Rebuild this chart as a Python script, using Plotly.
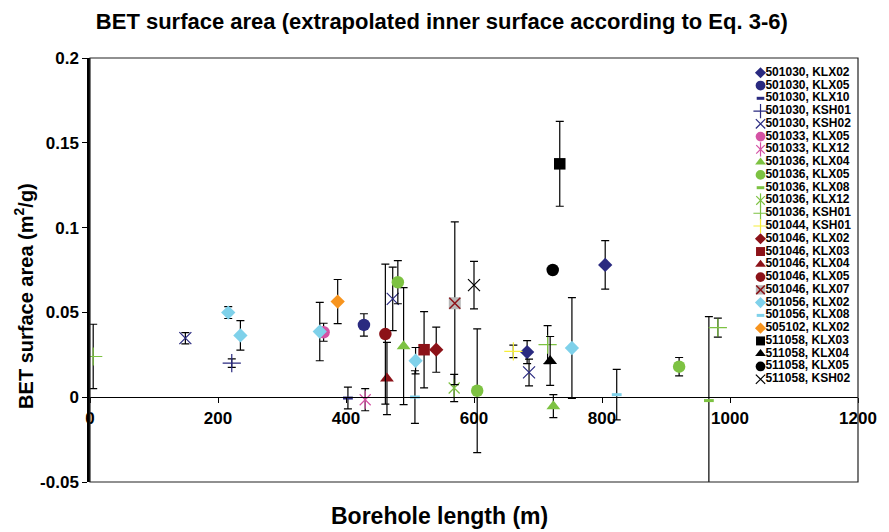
import plotly.graph_objects as go

# Sample series (sampling campaign, borehole)
series_names = [
    "501030, KLX02", "501030, KLX05", "501030, KLX10", "501030, KSH01", "501030, KSH02",
    "501033, KLX05", "501033, KLX12",
    "501036, KLX04", "501036, KLX05", "501036, KLX08", "501036, KLX12", "501036, KSH01",
    "501044, KSH01",
    "501046, KLX02", "501046, KLX03", "501046, KLX04", "501046, KLX05", "501046, KLX07",
    "501056, KLX02", "501056, KLX08",
    "505102, KLX02",
    "511058, KLX03", "511058, KLX04", "511058, KLX05", "511058, KSH02",
]

# Borehole length (m) of each measurement, per series
borehole_length = [
    [683, 805], [428], [403], [221.5], [149, 473, 686],
    [365], [430],
    [490, 724], [481, 605, 920.5], [967], [569], [5, 715, 981],
    [661.5],
    [541], [522], [464], [461.5], [570],
    [216, 235, 359, 508.7, 753], [507.7, 823],
    [387],
    [734], [719], [723], [600],
]

# BET surface area (m2/g), per series
bet_area = [
    [0.0266, 0.078], [0.0426], [-0.0005], [0.0201], [0.0348, 0.058, 0.0146],
    [0.0383], [-0.0015],
    [0.0301, -0.0053], [0.0678, 0.0038, 0.018], [-0.002], [0.0054], [0.024, 0.031, 0.041],
    [0.027],
    [0.028], [0.028], [0.011], [0.0372], [0.0554],
    [0.0499, 0.0364, 0.0387, 0.0215, 0.029], [0.0001, 0.0015],
    [0.0564],
    [0.1376], [0.0214], [0.075], [0.0661],
]

# Uncertainty of the BET surface area (m2/g), per series
bet_error = [
    [0.0068, 0.0143], [0.0066], [0.0064], [0.0025], [0.0033, 0.0187, 0.0079],
    [0.0053], [0.0065],
    [0.0345, 0.0068], [0.0127, 0.0365, 0.0054], [0.0495], [0.008], [0.019, 0.0112, 0.0056],
    [0.0037],
    [0.0133], [0.0225], [0.0213], [0.0413], [0.048],
    [0.0035, 0.0087, 0.0172, 0.0078, 0.0297], [0.0155, 0.0149],
    [0.013],
    [0.025], [0.0144], [0.0], [0.014],
]

x_ticks = [0, 200, 400, 600, 800, 1000, 1200]
y_ticks = [-0.05, 0, 0.05, 0.1, 0.15, 0.2]
y_tick_labels = ["-0.05", "0", "0.05", "0.1", "0.15", "0.2"]

# ---- styling -------------------------------------------------------------
NAVY = "#2A2A80"
PINK = "#D452A4"
GREEN = "#7DC242"
YELLOW = "#F6EE3A"
DRED = "#8C1218"
CYAN = "#7FD1EA"
ORANGE = "#F7941E"
BLACK = "#000000"
GRAY = "#B8B8B8"

series_style = [
    ("diamond", NAVY), ("circle", NAVY), ("dash", NAVY), ("plus", NAVY), ("x", NAVY),
    ("circle", PINK), ("asterisk", PINK),
    ("triangle", GREEN), ("circle", GREEN), ("dash", GREEN), ("asterisk", GREEN), ("plus", GREEN),
    ("plus", YELLOW),
    ("diamond", DRED), ("square", DRED), ("triangle", DRED), ("circle", DRED), ("xsquare", DRED),
    ("diamond", CYAN), ("dash", CYAN),
    ("diamond", ORANGE),
    ("square", BLACK), ("triangle", BLACK), ("circle", BLACK), ("x", BLACK),
]


def marker_layers(kind, color, scale=1.0):
    """Return a list of marker dicts; several are stacked for compound symbols."""
    s = scale
    if kind == "diamond":
        return [dict(symbol="diamond", size=11 * s, color=color, line=dict(width=0))]
    if kind == "circle":
        return [dict(symbol="circle", size=12.5 * s, color=color, line=dict(width=0))]
    if kind == "square":
        return [dict(symbol="square", size=11.5 * s, color=color, line=dict(width=0))]
    if kind == "triangle":
        return [dict(symbol="triangle-up", size=12 * s, color=color, line=dict(width=0))]
    if kind == "dash":
        return [dict(symbol="line-ew-open", size=7 * s, color=color, line=dict(width=3, color=color))]
    if kind == "plus":
        return [dict(symbol="cross-thin-open", size=13 * s, color=color, line=dict(width=1.2, color=color))]
    if kind == "x":
        return [dict(symbol="x-thin-open", size=12 * s, color=color, line=dict(width=1.2, color=color))]
    if kind == "asterisk":
        return [
            dict(symbol="x-thin-open", size=11 * s, color=color, line=dict(width=1.2, color=color)),
            dict(symbol="line-ns-open", size=13 * s, color=color, line=dict(width=1.2, color=color)),
        ]
    if kind == "xsquare":
        return [
            dict(symbol="square", size=12 * s, color=GRAY, line=dict(width=0)),
            dict(symbol="x-thin-open", size=11 * s, color=color, line=dict(width=1.5, color=color)),
        ]
    raise ValueError(kind)


FONT = "Liberation Sans, Arial, sans-serif"

fig = go.Figure()

# ---- data series with error bars ------------------------------------------
for name, xs, ys, errs, (kind, color) in zip(series_names, borehole_length, bet_area,
                                              bet_error, series_style):
    for k, mk in enumerate(marker_layers(kind, color)):
        err = None
        if k == 0 and any(e > 0 for e in errs):
            err = dict(type="data", array=errs, symmetric=True, visible=True,
                       color="black", thickness=1.2, width=4)
        fig.add_trace(go.Scatter(
            x=xs, y=ys, mode="markers", name=name, marker=mk, error_y=err,
            showlegend=False, cliponaxis=True, hoverinfo="x+y+name",
        ))

# ---- compact legend drawn on an overlay axis pair ---------------------------
legend_rows = list(range(len(series_names)))
for row, (kind, color) in zip(legend_rows, series_style):
    for mk in marker_layers(kind, color, scale=0.78):
        fig.add_trace(go.Scatter(
            x=[681], y=[row], xaxis="x2", yaxis="y2", mode="markers", marker=mk,
            showlegend=False, hoverinfo="skip",
        ))
fig.add_trace(go.Scatter(
    x=[686] * len(series_names), y=legend_rows, xaxis="x2", yaxis="y2", mode="text",
    text=series_names, textposition="middle right",
    textfont=dict(family=FONT, size=12, color="black", weight="bold"),
    showlegend=False, hoverinfo="skip",
))

tick_font = dict(family=FONT, size=17, color="black", weight="bold")

fig.update_layout(
    width=889, height=532,
    margin=dict(l=90, r=19, t=57.5, b=49.5),
    paper_bgcolor="white", plot_bgcolor="white",
    showlegend=False,
    title=dict(
        text="BET surface area (extrapolated inner surface according to Eq. 3-6)",
        font=dict(family=FONT, size=22, color="black", weight="bold"),
        x=0.497, xref="container", xanchor="center",
        y=1 - 21 / 532, yref="container", yanchor="middle",
    ),
    xaxis=dict(
        range=[0, 1200], tickvals=x_ticks, ticks="outside", ticklen=5, tickwidth=1,
        tickcolor="black", tickfont=tick_font, showgrid=False, zeroline=False,
        showline=True, linecolor="black", linewidth=1.2,
        anchor="free", position=0.2,
    ),
    yaxis=dict(
        range=[-0.05, 0.2], tickvals=y_ticks, ticktext=y_tick_labels,
        ticks="outside", ticklen=5, tickwidth=1, tickcolor="black",
        tickfont=tick_font, showgrid=False, zeroline=False,
        showline=True, linecolor="black", linewidth=2.5,
    ),
    xaxis2=dict(range=[0, 780], overlaying="x", visible=False, fixedrange=True),
    yaxis2=dict(range=[32.047, -1.156], overlaying="y", visible=False, fixedrange=True),
    shapes=[dict(type="rect", xref="paper", yref="paper", x0=0, x1=1, y0=0, y1=1,
                 line=dict(color="#222222", width=1.2), fillcolor="rgba(0,0,0,0)",
                 layer="above")],
    annotations=[
        dict(text="Borehole length (m)", xref="paper", yref="paper",
             x=0.455, y=(482.5 - 517) / 425, xanchor="center", yanchor="middle",
             showarrow=False, font=dict(family=FONT, size=23, color="black", weight="bold")),
        dict(text="BET surface area (m<sup>2</sup>/g)", xref="paper", yref="paper",
             x=(23 - 90) / 780, y=0.439, xanchor="center", yanchor="middle",
             textangle=-90, showarrow=False,
             font=dict(family=FONT, size=20, color="black", weight="bold")),
    ],
)

fig.write_html("out.html")
